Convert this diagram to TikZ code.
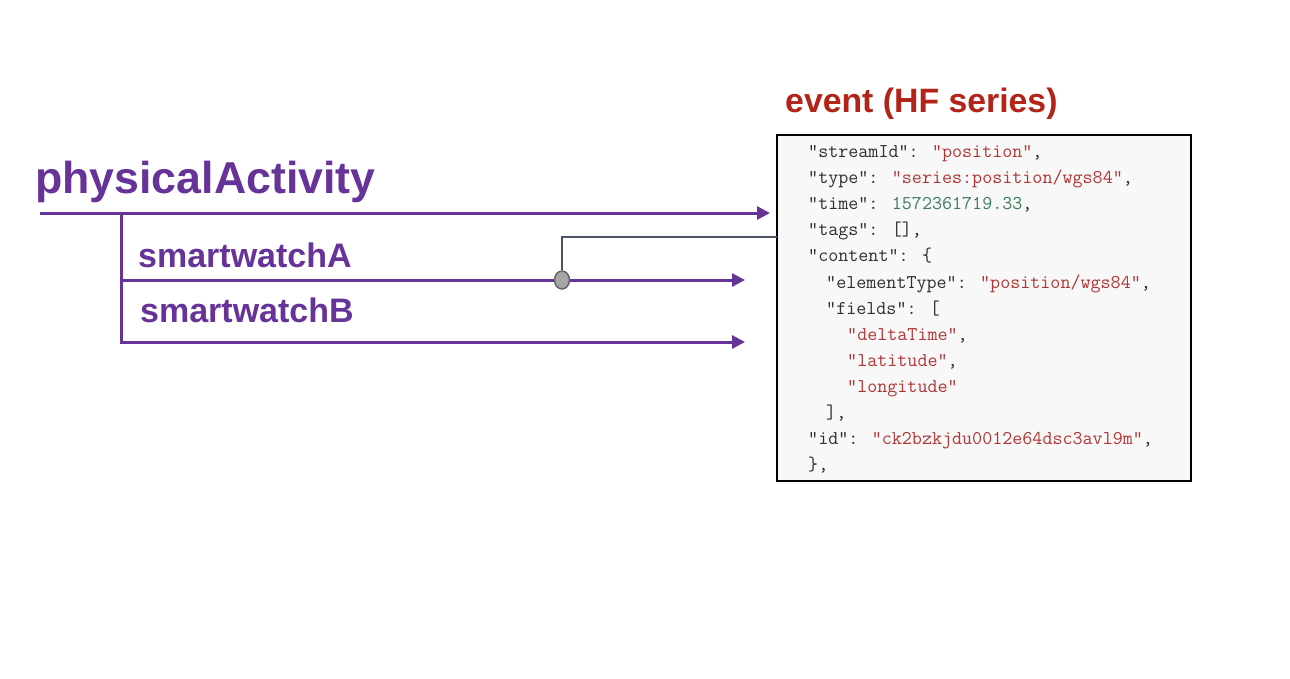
\documentclass[tikz,border=0pt]{standalone}
\usepackage{fontspec}
\setmainfont{Liberation Sans}
\usetikzlibrary{arrows.meta,shapes.geometric}
\definecolor{streamcol}{HTML}{663399}
\definecolor{eventcol}{HTML}{B22418}
\definecolor{linkcol}{HTML}{4A5363}
\definecolor{strcol}{HTML}{B03535}
\definecolor{numcol}{HTML}{3A7D5C}
\definecolor{keycol}{HTML}{2E2E2E}
\definecolor{boxfill}{HTML}{F8F8F8}
\newcommand{\jstr}[1]{\textcolor{strcol}{#1}}
\newcommand{\jnum}[1]{\textcolor{numcol}{#1}}
\tikzset{
  stream/.style={draw=streamcol,line width=3pt},
  link/.style={draw=linkcol,line width=2pt},
  streamlabel/.style={anchor=base west,inner sep=0pt,text=streamcol,font=\bfseries\fontsize{34}{40}\selectfont},
  codeline/.style={anchor=base west,inner sep=0pt,text=keycol,font=\ttfamily\fontsize{19.5}{22}\selectfont},
}

\begin{document}
\begin{tikzpicture}[x=1pt,y=-1pt,>={Triangle[length=13pt,width=13pt]}]
  \useasboundingbox (0,0) rectangle (1290,678);
  % streams
  \node[streamlabel,font=\bfseries\fontsize{44.7}{50}\selectfont] (pa) at (35,193) {physicalActivity};
  \node[streamlabel] (swa) at (138,267) {smartwatchA};
  \node[streamlabel] (swb) at (140,322) {smartwatchB};
  \coordinate (paStart) at (40,213);
  \coordinate (paEnd) at (770,213);
  \coordinate (fork) at (121,213);
  \coordinate (swaEnd) at (745,280);
  \coordinate (swbEnd) at (745,342);
  \draw[stream,->] (paStart) -- (paEnd);
  \draw[stream,->] (fork) |- (swbEnd);
  \draw[stream,->] (fork |- swaEnd) -- (swaEnd);
  % event box
  \node[draw=black,line width=2pt,fill=boxfill,minimum width=414pt,minimum height=346pt,inner sep=0pt] (event) at (984,308) {};
  \node[anchor=base west,inner sep=0pt,text=eventcol,font=\bfseries\fontsize{33.8}{40}\selectfont] (evtitle) at (785,112) {event (HF series)};
  \coordinate (evIn) at (777,237);
  \node[ellipse,draw=black!60,line width=1.5pt,fill=black!35,minimum width=15pt,minimum height=18pt,inner sep=0pt] (tap) at (562,280) {};
  \draw[link] (tap) |- (evIn);
  % json lines
  \node[codeline] (c0) at (808,157) {"streamId": \jstr{"position"},};
  \node[codeline] (c1) at (808,183) {"type": \jstr{"series:position/wgs84"},};
  \node[codeline] (c2) at (808,209) {"time": \jnum{1572361719.33},};
  \node[codeline] (c3) at (808,235) {"tags": [],};
  \node[codeline] (c4) at (808,261) {"content": \{};
  \node[codeline] (c5) at (826,288) {"elementType": \jstr{"position/wgs84"},};
  \node[codeline] (c6) at (826,314) {"fields": [};
  \node[codeline] (c7) at (847,340) {\jstr{"deltaTime"},};
  \node[codeline] (c8) at (847,366) {\jstr{"latitude"},};
  \node[codeline] (c9) at (847,392) {\jstr{"longitude"}};
  \node[codeline] (c10) at (826,418) {],};
  \node[codeline] (c11) at (808,444) {"id": \jstr{"ck2bzkjdu0012e64dsc3avl9m"},};
  \node[codeline] (c12) at (808,470) {\},};
\end{tikzpicture}
\end{document}
